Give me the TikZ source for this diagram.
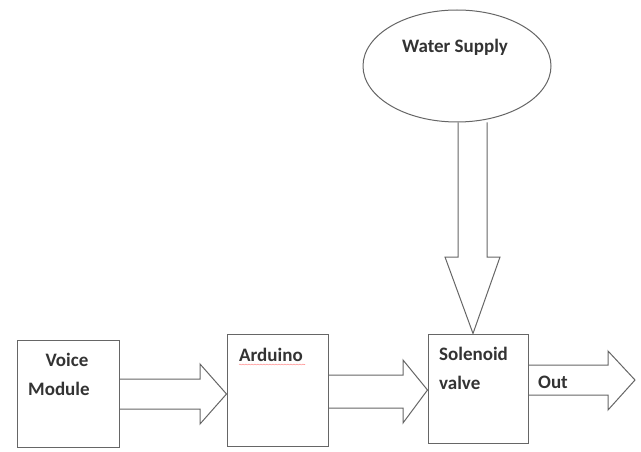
\documentclass[tikz,border=0pt]{standalone}
\usepackage{fontspec}
\setmainfont{Carlito}
\usetikzlibrary{shapes.geometric,decorations.pathmorphing}
\begin{document}
\begin{tikzpicture}[x=1pt,y=-1pt,
  line/.style={draw=black!60,line width=1pt},
  boxnode/.style={line,rectangle,inner sep=0pt},
  lbl/.style={inner sep=0pt,anchor=base west,font=\fontsize{19}{22}\selectfont\bfseries,text=black!80},
  barrow/.style={line,line join=miter}]
\useasboundingbox[fill=white] (0,0) rectangle (641,452);
% nodes
\node[line,ellipse,minimum width=188pt,minimum height=112pt,inner sep=0pt] (ws) at (457,66) {};
\node[boxnode,minimum width=102pt,minimum height=107pt] (vm) at (68,393.5) {};
\node[boxnode,minimum width=101pt,minimum height=112pt] (ard) at (277.5,390) {};
\node[boxnode,minimum width=100pt,minimum height=109pt] (sol) at (478,388.5) {};
% labels
\node[lbl,anchor=base] (tws) at (455,53) {Water Supply};
\node[lbl,anchor=base] (tv) at (67,366) {Voice};
\node[lbl] (tm) at (28,395) {Module};
\node[lbl] (ta) at (239,361) {Arduino};
\node[lbl] (ts) at (439,360) {Solenoid};
\node[lbl] (tval) at (439,389) {valve};
\node[lbl] (to) at (538,388) {Out};
\draw[draw=red!40,line width=0.6pt,decorate,decoration={snake,amplitude=0.4pt,segment length=3pt}]
  (ta.base west) ++(0,3.5) -- ++(66,0);
% block arrows
\draw[barrow] (vm.east |- 0,379) -- (200,379) -- (200,364) -- (ard.west |- 0,394)
  -- (200,424) -- (200,409) -- (vm.east |- 0,409);
\draw[barrow] (ard.east |- 0,375) -- (403,375) -- (403,360) -- (sol.west |- 0,390)
  -- (403,423) -- (403,408) -- (ard.east |- 0,408);
\coordinate (outtip) at (635,380);
\draw[barrow] (sol.east |- 0,365) -- (608,365) -- (608,351) -- (outtip)
  -- (608,410) -- (608,395) -- (sol.east |- 0,395);
\draw[barrow] (ws.south -| 458,0) -- (458,257) -- (445,257) -- (sol.north -| 473,0)
  -- (500,257) -- (487,257) -- (ws.south -| 487,0);
\end{tikzpicture}
\end{document}
